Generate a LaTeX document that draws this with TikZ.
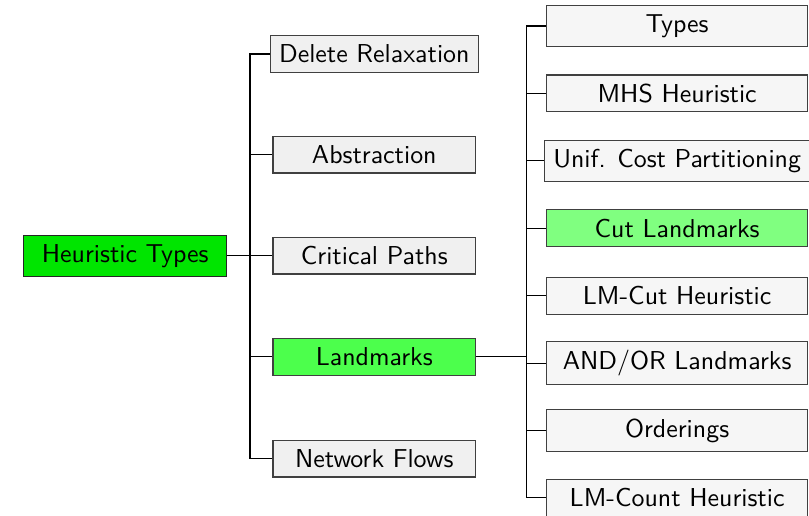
\documentclass[tikz,border=0pt]{standalone}
\usepackage{fontspec}
\usetikzlibrary{positioning}

\begin{document}
\begin{tikzpicture}[
    font=\sffamily,
    rootbox/.style={rectangle, draw=black!85, fill=green!90!black, text centered, minimum width=2.75cm, minimum height=0.54cm},
    midbox/.style={rectangle, draw=black!75, fill=gray!12, text centered, minimum width=2.75cm, minimum height=0.49cm},
    leafbox/.style={rectangle, draw=black!75, fill=gray!7, text centered, minimum width=3.55cm, minimum height=0.5cm},
    link/.style={thin, black}
]
\useasboundingbox (0,0) rectangle (10.98,-6.99);

\node[rootbox] (root) at (1.70,-3.474) {Heuristic Types};

\node[midbox] (delete) at (5.08,-0.733) {Delete Relaxation};
\node[midbox] (abstr) at (5.08,-2.103) {Abstraction};
\node[midbox] (crit) at (5.08,-3.474) {Critical Paths};
\node[midbox, fill=green!70] (landm) at (5.08,-4.845) {Landmarks};
\node[midbox] (flows) at (5.08,-6.229) {Network Flows};

\node[leafbox] (types) at (9.19,-0.353) {Types};
\node[leafbox] (mhs) at (9.19,-1.268) {MHS Heuristic};
\node[leafbox] (ucp) at (9.19,-2.183) {Unif. Cost Partitioning};
\node[leafbox, fill=green!50] (cutlm) at (9.19,-3.098) {Cut Landmarks};
\node[leafbox] (lmcut) at (9.19,-4.013) {LM-Cut Heuristic};
\node[leafbox] (andor) at (9.19,-4.928) {AND/OR Landmarks};
\node[leafbox] (order) at (9.19,-5.843) {Orderings};
\node[leafbox] (lmcount) at (9.19,-6.758) {LM-Count Heuristic};

% trunk points
\coordinate (hubroot) at (3.393,-3.474);
\coordinate (hublm) at (7.152,-4.845);

\draw[link] (root.east) -- (hubroot);
\draw[link] (hubroot) |- (delete.west);
\draw[link] (hubroot) |- (abstr.west);
\draw[link] (hubroot) -- (crit.west);
\draw[link] (hubroot) |- (landm.west);
\draw[link] (hubroot) |- (flows.west);

\draw[link] (landm.east) -- (hublm);
\draw[link] (hublm) |- (types.west);
\draw[link] (hublm) |- (mhs.west);
\draw[link] (hublm) |- (ucp.west);
\draw[link] (hublm) |- (cutlm.west);
\draw[link] (hublm) |- (lmcut.west);
\draw[link] (hublm) |- (andor.west);
\draw[link] (hublm) |- (order.west);
\draw[link] (hublm) |- (lmcount.west);

\end{tikzpicture}
\end{document}
